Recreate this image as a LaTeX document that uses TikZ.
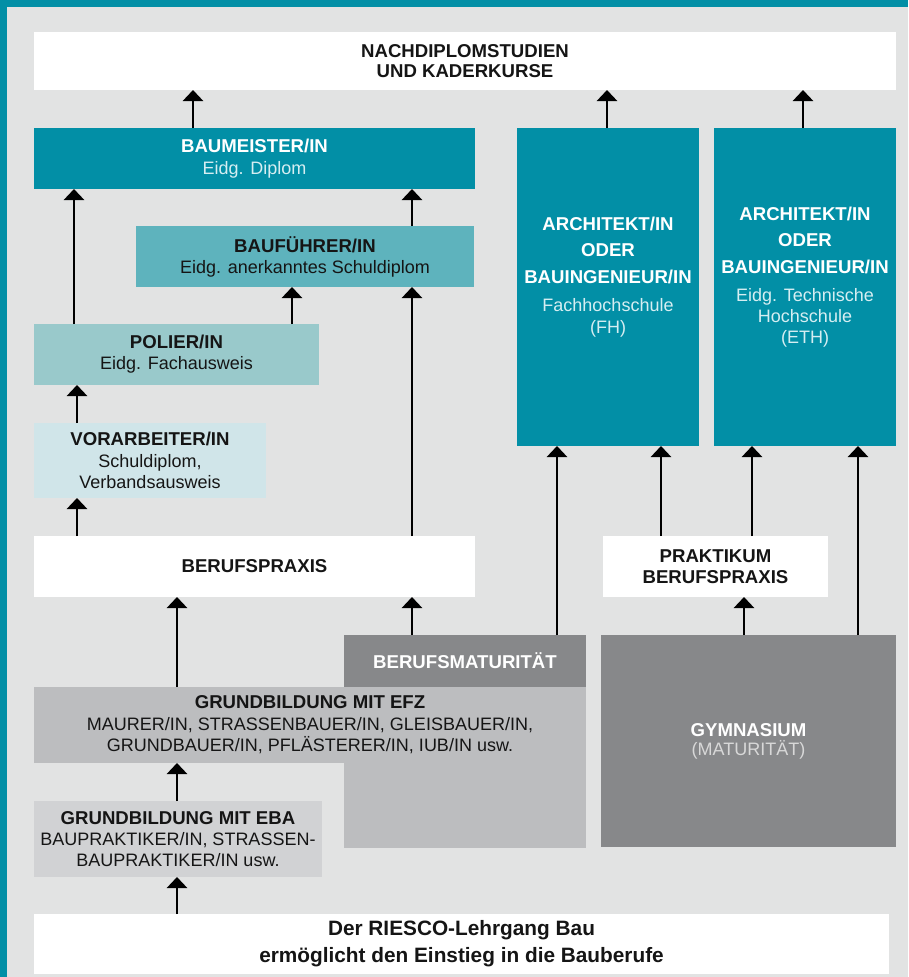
\documentclass[tikz,border=0pt]{standalone}
\usepackage{fontspec}
\setmainfont{Liberation Sans}
\usetikzlibrary{arrows.meta}
\definecolor{tealc}{HTML}{028FA6}
\definecolor{bgc}{HTML}{E2E3E3}
\definecolor{bfc}{HTML}{5EB3BD}
\definecolor{poc}{HTML}{99C9CB}
\definecolor{vac}{HTML}{D0E5E9}
\definecolor{efzc}{HTML}{BCBDBF}
\definecolor{ebac}{HTML}{D1D2D4}
\definecolor{darkc}{HTML}{87888A}
\definecolor{subteal}{HTML}{D6EEF2}
\definecolor{subgray}{HTML}{D8D8D8}
\definecolor{txtc}{HTML}{151515}
\newcommand{\tl}[1]{{\fontsize{18.6}{21}\selectfont\bfseries #1}}
\newcommand{\sbt}[1]{{\fontsize{18}{21}\selectfont #1}}
\begin{document}
\begin{tikzpicture}[x=1pt,y=-1pt,
  box/.style={draw=none,inner sep=0pt,outer sep=0pt,anchor=north west,align=center,
    text=txtc,font=\fontsize{18}{21}\selectfont},
  txt/.style={inner sep=0pt,align=center,font=\fontsize{18}{21}\selectfont},
  arr/.style={line width=2.7pt,-{Triangle[width=20pt,length=11pt]}}]
\useasboundingbox (0,0) rectangle (908,977);
\fill[tealc] (0,0) rectangle (908,977);
\fill[bgc] (7,7) rectangle (908,977);
% boxes
\node[box,fill=white,minimum width=862pt,minimum height=58pt] (nd) at (34,32)
  {\tl{NACHDIPLOMSTUDIEN}\\[-0.5pt]\tl{UND KADERKURSE}};
\node[box,fill=tealc,text=white,minimum width=441pt,minimum height=61pt] (bm) at (34,128)
  {\tl{BAUMEISTER/IN}\\[1pt]\textcolor{subteal}{\sbt{Eidg. Diplom}}};
\node[box,fill=tealc,minimum width=182pt,minimum height=318pt] (fh) at (517,128) {};
\node[txt,text=white,yshift=10pt] (fht) at (fh.center)
  {\tl{ARCHITEKT/IN}\\[5.5pt]\tl{ODER}\\[5.5pt]\tl{BAUINGENIEUR/IN}\\[7pt]\textcolor{subteal}{\sbt{Fachhochschule}}\\[1pt]\textcolor{subteal}{\sbt{(FH)}}};
\node[box,fill=tealc,minimum width=182pt,minimum height=318pt] (eth) at (714,128) {};
\node[txt,text=white,yshift=10pt] (etht) at (eth.center)
  {\tl{ARCHITEKT/IN}\\[5.5pt]\tl{ODER}\\[5.5pt]\tl{BAUINGENIEUR/IN}\\[7pt]\textcolor{subteal}{\sbt{Eidg. Technische}}\\\textcolor{subteal}{\sbt{Hochschule}}\\\textcolor{subteal}{\sbt{(ETH)}}};
\node[box,fill=bfc,minimum width=338pt,minimum height=61pt] (bf) at (136,226)
  {\tl{BAUFÜHRER/IN}\\[0pt]\sbt{Eidg. anerkanntes Schuldiplom}};
\node[box,fill=poc,minimum width=285pt,minimum height=61pt] (po) at (34,324)
  {\tl{POLIER/IN}\\[0pt]\sbt{Eidg. Fachausweis}};
\node[box,fill=vac,minimum width=232pt,minimum height=75pt] (va) at (34,423)
  {\tl{VORARBEITER/IN}\\[1pt]\sbt{Schuldiplom,}\\\sbt{Verbandsausweis}};
\node[box,fill=white,minimum width=441pt,minimum height=61pt] (bp) at (34,536)
  {\tl{BERUFSPRAXIS}};
\node[box,fill=white,minimum width=225pt,minimum height=61pt] (pk) at (603,536)
  {\tl{PRAKTIKUM}\\[-0.5pt]\tl{BERUFSPRAXIS}};
\node[box,fill=efzc,minimum width=242pt,minimum height=213pt] (bmcol) at (344,635) {};
\node[box,fill=darkc,text=white,minimum width=242pt,minimum height=52pt] (bmh) at (344,635)
  {\tl{BERUFSMATURITÄT}};
\node[box,fill=efzc,minimum width=552pt,minimum height=76pt] (efz) at (34,687)
  {\tl{GRUNDBILDUNG MIT EFZ}\\[1pt]\sbt{MAURER/IN, STRASSENBAUER/IN, GLEISBAUER/IN,}\\\sbt{GRUNDBAUER/IN, PFLÄSTERER/IN, IUB/IN usw.}};
\node[box,fill=darkc,text=white,minimum width=295pt,minimum height=212pt] (gym) at (601,635)
  {\tl{GYMNASIUM}\\[-2pt]\textcolor{subgray}{\sbt{(MATURITÄT)}}};
\node[box,fill=ebac,minimum width=288pt,minimum height=76pt] (eba) at (34,801)
  {\tl{GRUNDBILDUNG MIT EBA}\\[0pt]\sbt{BAUPRAKTIKER/IN, STRASSEN-}\\\sbt{BAUPRAKTIKER/IN usw.}};
\node[box,fill=white,minimum width=855pt,minimum height=60pt] (ri) at (34,914)
  {{\fontsize{20.8}{27}\selectfont\bfseries Der RIESCO-Lehrgang Bau}\\[6pt]{\fontsize{20.8}{27}\selectfont\bfseries ermöglicht den Einstieg in die Bauberufe}};
% helper x positions
\coordinate (x74) at (74,0);
\coordinate (x77) at (77,0);
\coordinate (x177) at (177,0);
\coordinate (x193) at (193,0);
\coordinate (x292) at (292,0);
\coordinate (x412) at (412,0);
\coordinate (x557) at (557,0);
\coordinate (x607) at (607,0);
\coordinate (x661) at (661,0);
\coordinate (x744) at (744,0);
\coordinate (x752) at (752,0);
\coordinate (x803) at (803,0);
\coordinate (x858) at (858,0);
% connectors
\draw[arr] (bm.north -| x193) -- (nd.south -| x193);
\draw[arr] (fh.north -| x607) -- (nd.south -| x607);
\draw[arr] (eth.north -| x803) -- (nd.south -| x803);
\draw[arr] (po.north -| x74) -- (bm.south -| x74);
\draw[arr] (bf.north -| x412) -- (bm.south -| x412);
\draw[arr] (po.north -| x292) -- (bf.south -| x292);
\draw[arr] (bp.north -| x412) -- (bf.south -| x412);
\draw[arr] (va.north -| x77) -- (po.south -| x77);
\draw[arr] (bp.north -| x77) -- (va.south -| x77);
\draw[arr] (efz.north -| x177) -- (bp.south -| x177);
\draw[arr] (bmh.north -| x412) -- (bp.south -| x412);
\draw[arr] (bmh.north -| x557) -- (fh.south -| x557);
\draw[arr] (pk.north -| x661) -- (fh.south -| x661);
\draw[arr] (pk.north -| x752) -- (eth.south -| x752);
\draw[arr] (gym.north -| x744) -- (pk.south -| x744);
\draw[arr] (gym.north -| x858) -- (eth.south -| x858);
\draw[arr] (eba.north -| x177) -- (efz.south -| x177);
\draw[arr] (ri.north -| x177) -- (eba.south -| x177);
\end{tikzpicture}
\end{document}
